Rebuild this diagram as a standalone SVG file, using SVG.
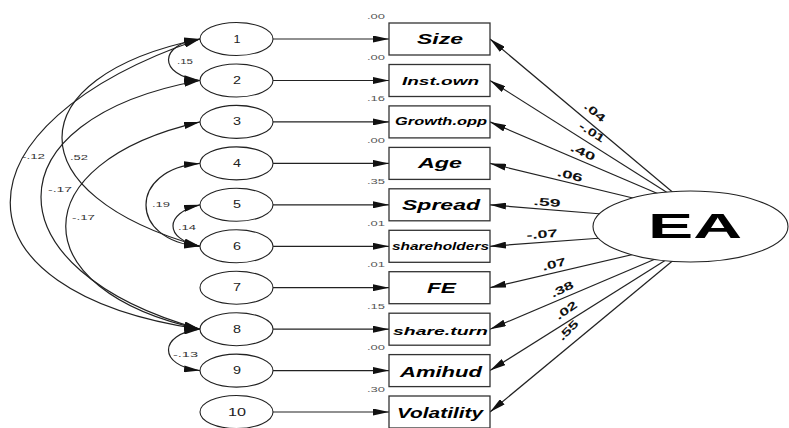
<svg xmlns="http://www.w3.org/2000/svg" width="789" height="428" viewBox="0 0 789 428">
<style>
text{font-family:"Liberation Sans",Arial,sans-serif}
.el{fill:#fff;stroke:#222;stroke-width:1.1}
.bx{fill:#fff;stroke:#333;stroke-width:1.3}
.num{font-size:10px;fill:#222;text-anchor:middle}
.var{font-size:8px;fill:#555}
.cov{font-size:8px;fill:#333}
.lbl{font-weight:bold;font-style:italic;fill:#000;text-anchor:middle}
.pl{font-size:11px;font-weight:bold;fill:#111;text-anchor:middle}
.ln{fill:none;stroke:#222;stroke-width:1.2}
.arr{marker-end:url(#ah)}
.dbl{marker-start:url(#ah);marker-end:url(#ah)}
</style>
<defs>
<marker id="ah" viewBox="0 0 16 7" refX="16" refY="3.5" markerWidth="16" markerHeight="7" markerUnits="userSpaceOnUse" orient="auto-start-reverse">
<path d="M0,0 L16,3.5 L0,7 z" fill="#111"/>
</marker>
</defs>
<rect width="789" height="428" fill="#fff"/>
<g id="connectors">
<path class="ln arr" d="M273,39 H389"/>
<path class="ln arr" d="M273,80.5 H389"/>
<path class="ln arr" d="M273,121.9 H389"/>
<path class="ln arr" d="M273,163.4 H389"/>
<path class="ln arr" d="M273,204.8 H389"/>
<path class="ln arr" d="M273,246.3 H389"/>
<path class="ln arr" d="M273,287.7 H389"/>
<path class="ln arr" d="M273,329.2 H389"/>
<path class="ln arr" d="M273,370.6 H389"/>
<path class="ln arr" d="M273,412 H389"/>
<path class="ln dbl" d="M200,39 C158,44 158,75.5 200,80.5"/>
<path class="ln dbl" d="M200,39 C-53,125 -53,292 200,329.2"/>
<path class="ln dbl" d="M200,39 C16,77 16,195 200,246.3"/>
<path class="ln dbl" d="M200,80.5 C-12,119 -12,270 200,329.2"/>
<path class="ln dbl" d="M200,121.9 C21,163 21,290 200,329.2"/>
<path class="ln dbl" d="M200,163.4 C128,169 128,241 200,246.3"/>
<path class="ln dbl" d="M200,204.8 C164,213 164,239 200,246.3"/>
<path class="ln dbl" d="M200,329.2 C158,334 158,366 200,370.6"/>
<path class="ln arr" d="M676,195 L490,39"/>
<path class="ln arr" d="M671,195 L490,80.5"/>
<path class="ln arr" d="M661,195 L490,121.9"/>
<path class="ln arr" d="M637,199 L490,163.4"/>
<path class="ln arr" d="M602,214 L490,204.8"/>
<path class="ln arr" d="M602,238 L490,246.3"/>
<path class="ln arr" d="M635,254 L490,287.7"/>
<path class="ln arr" d="M660,257 L490,329.2"/>
<path class="ln arr" d="M669,258 L490,370.6"/>
<path class="ln arr" d="M676,258 L490,412"/>
<text class="cov" x="177" y="64" textLength="16" lengthAdjust="spacingAndGlyphs">.15</text>
<text class="cov" x="22" y="159" textLength="23" lengthAdjust="spacingAndGlyphs">-.12</text>
<text class="cov" x="70" y="160" textLength="18" lengthAdjust="spacingAndGlyphs">.52</text>
<text class="cov" x="48" y="192" textLength="24" lengthAdjust="spacingAndGlyphs">-.17</text>
<text class="cov" x="72" y="220" textLength="23" lengthAdjust="spacingAndGlyphs">-.17</text>
<text class="cov" x="152" y="207" textLength="18" lengthAdjust="spacingAndGlyphs">.19</text>
<text class="cov" x="178" y="230" textLength="18" lengthAdjust="spacingAndGlyphs">.14</text>
<text class="cov" x="173" y="357" textLength="25" lengthAdjust="spacingAndGlyphs">-.13</text>
<text class="pl" transform="translate(595,112) rotate(40)" y="4" textLength="24" lengthAdjust="spacingAndGlyphs">.04</text>
<text class="pl" transform="translate(592,132) rotate(32)" y="4" textLength="28" lengthAdjust="spacingAndGlyphs">-.01</text>
<text class="pl" transform="translate(583,152) rotate(25)" y="4" textLength="26" lengthAdjust="spacingAndGlyphs">.40</text>
<text class="pl" transform="translate(570,175) rotate(14)" y="4" textLength="26" lengthAdjust="spacingAndGlyphs">.06</text>
<text class="pl" transform="translate(547,202) rotate(4)" y="4" textLength="27" lengthAdjust="spacingAndGlyphs">.59</text>
<text class="pl" transform="translate(542,234) rotate(-4)" y="4" textLength="31" lengthAdjust="spacingAndGlyphs">-.07</text>
<text class="pl" transform="translate(554,264) rotate(-14)" y="4" textLength="24" lengthAdjust="spacingAndGlyphs">.07</text>
<text class="pl" transform="translate(562,289) rotate(-25)" y="4" textLength="24" lengthAdjust="spacingAndGlyphs">.38</text>
<text class="pl" transform="translate(566,310) rotate(-35)" y="4" textLength="24" lengthAdjust="spacingAndGlyphs">.02</text>
<text class="pl" transform="translate(568,330) rotate(-45)" y="4" textLength="24" lengthAdjust="spacingAndGlyphs">.55</text>
</g>
<g id="e1"><ellipse class="el" cx="236.5" cy="39" rx="36.5" ry="16.5"/><text class="num" x="237" y="42.5" textLength="7" lengthAdjust="spacingAndGlyphs">1</text></g>
<g id="e2"><ellipse class="el" cx="236.5" cy="80.5" rx="36.5" ry="16.5"/><text class="num" x="237" y="84" textLength="8" lengthAdjust="spacingAndGlyphs">2</text></g>
<g id="e3"><ellipse class="el" cx="236.5" cy="121.9" rx="36.5" ry="16.5"/><text class="num" x="237" y="125.4" textLength="8" lengthAdjust="spacingAndGlyphs">3</text></g>
<g id="e4"><ellipse class="el" cx="236.5" cy="163.4" rx="36.5" ry="16.5"/><text class="num" x="237" y="166.9" textLength="8" lengthAdjust="spacingAndGlyphs">4</text></g>
<g id="e5"><ellipse class="el" cx="236.5" cy="204.8" rx="36.5" ry="16.5"/><text class="num" x="237" y="208.3" textLength="8" lengthAdjust="spacingAndGlyphs">5</text></g>
<g id="e6"><ellipse class="el" cx="236.5" cy="246.3" rx="36.5" ry="16.5"/><text class="num" x="237" y="249.8" textLength="8" lengthAdjust="spacingAndGlyphs">6</text></g>
<g id="e7"><ellipse class="el" cx="236.5" cy="287.7" rx="36.5" ry="16.5"/><text class="num" x="237" y="291.2" textLength="8" lengthAdjust="spacingAndGlyphs">7</text></g>
<g id="e8"><ellipse class="el" cx="236.5" cy="329.2" rx="36.5" ry="16.5"/><text class="num" x="237" y="332.7" textLength="8" lengthAdjust="spacingAndGlyphs">8</text></g>
<g id="e9"><ellipse class="el" cx="236.5" cy="370.6" rx="36.5" ry="16.5"/><text class="num" x="237" y="374.1" textLength="8" lengthAdjust="spacingAndGlyphs">9</text></g>
<g id="e10"><ellipse class="el" cx="236.5" cy="412" rx="36.5" ry="16.5"/><text class="num" x="237" y="415.5" textLength="18" lengthAdjust="spacingAndGlyphs">10</text></g>
<g id="Size"><rect class="bx" x="389" y="23" width="101" height="32"/><text class="var" x="367" y="18.5" textLength="18" lengthAdjust="spacingAndGlyphs">.00</text><text class="lbl" x="440" y="44" font-size="14" textLength="46" lengthAdjust="spacingAndGlyphs">Size</text></g>
<g id="Inst.own"><rect class="bx" x="389" y="64.5" width="101" height="32"/><text class="var" x="367" y="60" textLength="18" lengthAdjust="spacingAndGlyphs">.00</text><text class="lbl" x="440.5" y="84.5" font-size="11" textLength="77" lengthAdjust="spacingAndGlyphs">Inst.own</text></g>
<g id="Growth.opp"><rect class="bx" x="389" y="105.9" width="101" height="32"/><text class="var" x="367" y="101.4" textLength="18" lengthAdjust="spacingAndGlyphs">.16</text><text class="lbl" x="441" y="124.5" font-size="10" textLength="92" lengthAdjust="spacingAndGlyphs">Growth.opp</text></g>
<g id="Age"><rect class="bx" x="389" y="147.4" width="101" height="32"/><text class="var" x="367" y="142.9" textLength="18" lengthAdjust="spacingAndGlyphs">.00</text><text class="lbl" x="440" y="168" font-size="14" textLength="44" lengthAdjust="spacingAndGlyphs">Age</text></g>
<g id="Spread"><rect class="bx" x="389" y="188.8" width="101" height="32"/><text class="var" x="367" y="184.3" textLength="18" lengthAdjust="spacingAndGlyphs">.35</text><text class="lbl" x="441" y="210" font-size="14" textLength="78" lengthAdjust="spacingAndGlyphs">Spread</text></g>
<g id="shareholders"><rect class="bx" x="389" y="230.3" width="101" height="32"/><text class="var" x="367" y="225.8" textLength="18" lengthAdjust="spacingAndGlyphs">.01</text><text class="lbl" x="440.5" y="250" font-size="10" textLength="97" lengthAdjust="spacingAndGlyphs">shareholders</text></g>
<g id="FE"><rect class="bx" x="389" y="271.7" width="101" height="32"/><text class="var" x="367" y="267.2" textLength="18" lengthAdjust="spacingAndGlyphs">.01</text><text class="lbl" x="441.5" y="293" font-size="14" textLength="29" lengthAdjust="spacingAndGlyphs">FE</text></g>
<g id="share.turn"><rect class="bx" x="389" y="313.2" width="101" height="32"/><text class="var" x="367" y="308.7" textLength="18" lengthAdjust="spacingAndGlyphs">.15</text><text class="lbl" x="440.5" y="335" font-size="11.5" textLength="95" lengthAdjust="spacingAndGlyphs">share.turn</text></g>
<g id="Amihud"><rect class="bx" x="389" y="354.6" width="101" height="32"/><text class="var" x="367" y="350.1" textLength="18" lengthAdjust="spacingAndGlyphs">.00</text><text class="lbl" x="441" y="377" font-size="14" textLength="82" lengthAdjust="spacingAndGlyphs">Amihud</text></g>
<g id="Volatility"><rect class="bx" x="389" y="396" width="101" height="32"/><text class="var" x="367" y="391.5" textLength="18" lengthAdjust="spacingAndGlyphs">.30</text><text class="lbl" x="440" y="418" font-size="14" textLength="86" lengthAdjust="spacingAndGlyphs">Volatility</text></g>
<g id="EA"><ellipse class="el" cx="690.5" cy="226.5" rx="97.5" ry="35.5"/><text x="695" y="238" font-size="35" font-weight="bold" text-anchor="middle" fill="#000" textLength="94" lengthAdjust="spacingAndGlyphs">EA</text></g>
</svg>
